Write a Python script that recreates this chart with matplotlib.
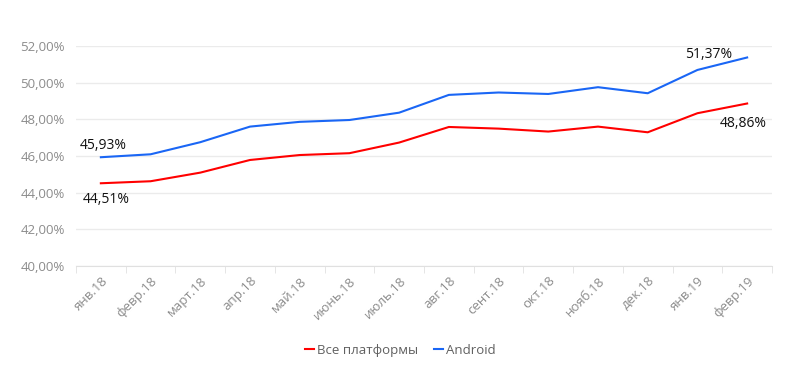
import matplotlib
matplotlib.use("Agg")
import matplotlib.pyplot as plt
from matplotlib.ticker import FixedLocator, FuncFormatter

plt.rcParams['font.family'] = ['Open Sans', 'DejaVu Sans']

categories = ["янв.18", "февр.18", "март.18", "апр.18", "май.18", "июнь.18", "июль.18",
              "авг.18", "сент.18", "окт.18", "нояб.18", "дек.18", "янв.19", "февр.19"]
all_platforms = [44.51, 44.62, 45.09, 45.78, 46.05, 46.15, 46.73,
                 47.58, 47.49, 47.33, 47.60, 47.29, 48.33, 48.86]
android = [45.93, 46.09, 46.75, 47.60, 47.86, 47.96, 48.36,
           49.33, 49.46, 49.38, 49.75, 49.42, 50.69, 51.37]
series_names = ["Все платформы", "Android"]
yticks = [40, 42, 44, 46, 48, 50, 52]

red = "#ff0000"
blue = "#1a66f5"

fig = plt.figure(figsize=(8, 3.86), dpi=100)
ax = fig.add_axes([0.095, 0.311, 0.870, 0.570])

x = list(range(len(categories)))
ax.plot(x, all_platforms, color=red, lw=1.5, label=series_names[0])
ax.plot(x, android, color=blue, lw=1.5, label=series_names[1])

ax.set_xlim(-0.5, len(categories) - 0.5)
ax.set_ylim(40, 52)
ax.set_yticks(yticks)
ax.yaxis.set_major_formatter(FuncFormatter(lambda v, p: f"{v:.2f}%".replace(".", ",")))
ax.grid(axis='y', color="#ebebeb", lw=1)
ax.set_axisbelow(True)
for s in ["top", "right", "left"]:
    ax.spines[s].set_visible(False)
ax.spines["bottom"].set_color("#e0e0e0")
ax.tick_params(axis='y', length=0, labelcolor="#8c8c8c", labelsize=9.5, pad=8)

ax.set_xticks(x)
ax.set_xticklabels(categories, rotation=45, ha='right', rotation_mode='anchor',
                   color="#8c8c8c", fontsize=9.5)
ax.tick_params(axis='x', which='major', length=0, pad=6)
ax.xaxis.set_minor_locator(FixedLocator([i - 0.5 for i in range(len(categories) + 1)]))
ax.tick_params(axis='x', which='minor', length=5, color="#e0e0e0")

def fmt(v):
    return f"{v:.2f}%".replace(".", ",")

ax.annotate(fmt(android[0]), (0, android[0]), xytext=(-15, 3), textcoords='offset points',
            ha='left', va='bottom', fontsize=10, color="#111111")
ax.annotate(fmt(all_platforms[0]), (0, all_platforms[0]), xytext=(-13, -6), textcoords='offset points',
            ha='left', va='top', fontsize=10, color="#111111")
ax.annotate(fmt(android[-1]), (13, android[-1]), xytext=(-45, -3), textcoords='offset points',
            ha='left', va='bottom', fontsize=10, color="#111111")
ax.annotate(fmt(all_platforms[-1]), (13, all_platforms[-1]), xytext=(-20, -9), textcoords='offset points',
            ha='left', va='top', fontsize=10, color="#111111")

leg = fig.legend(loc='center', bbox_to_anchor=(0.5, 0.093), ncol=2, frameon=False,
                 handlelength=0.7, handletextpad=0.2, columnspacing=1.2, fontsize=9.5)
for t in leg.get_texts():
    t.set_color("#606060")

fig.savefig("out.png", dpi=100, facecolor="white")
